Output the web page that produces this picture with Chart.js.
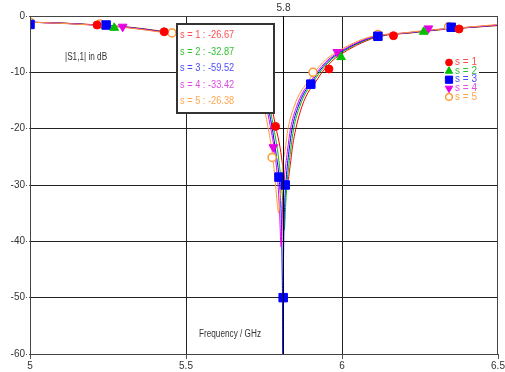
<!DOCTYPE html>
<html>
<head>
<meta charset="utf-8">
<script src="https://cdn.jsdelivr.net/npm/chart.js@4.4.0/dist/chart.umd.min.js"></script>
<style>
  html, body { margin: 0; padding: 0; background: #fff; }
</style>
</head>
<body>
<canvas id="s11Chart" width="505" height="372"></canvas>
<script>
// axis ticks
const xTicks = [5, 5.5, 6, 6.5];
const xTickLabels = ['5', '5.5', '6', '6.5'];
const yTicks = [0, -10, -20, -30, -40, -50, -60];
const yTickLabels = ['0', '-10', '-20', '-30', '-40', '-50', '-60'];

// series names + marker readout at 5.81 GHz
const seriesNames = ['s = 1', 's = 2', 's = 3', 's = 4', 's = 5'];
const markerFreq = 5.81;
const markerLabel = '5.8';
const markerValues = [-26.67, -32.87, -59.52, -33.42, -26.38];

// curves (GHz / dB)
const s1Freq = [5.0, 5.122, 5.222, 5.322, 5.422, 5.522, 5.622, 5.672, 5.722, 5.752, 5.772, 5.787, 5.802, 5.81, 5.816, 5.822, 5.828, 5.834, 5.842, 5.852, 5.872, 5.892, 5.912, 5.932, 5.972, 6.002, 6.062, 6.122, 6.222, 6.322, 6.422, 6.5];
const s1Db = [-1.1, -1.3, -1.6, -2.0, -2.7, -3.6, -5.3, -6.8, -9.5, -12.5, -15.5, -19.5, -23.5, -26.67, -29, -30.5, -29, -26.5, -23, -20, -16, -13.5, -12, -10.3, -7.8, -6.6, -4.8, -3.6, -3.0, -2.4, -2.0, -1.7];

const s2Freq = [5.0, 5.115, 5.215, 5.315, 5.415, 5.515, 5.615, 5.665, 5.715, 5.745, 5.765, 5.78, 5.795, 5.805, 5.81, 5.815, 5.82, 5.825, 5.835, 5.845, 5.865, 5.885, 5.905, 5.925, 5.965, 5.995, 6.055, 6.115, 6.215, 6.315, 6.415, 6.5];
const s2Db = [-1.1, -1.3, -1.6, -2.0, -2.7, -3.6, -5.3, -6.8, -9.5, -12.5, -15.5, -19.5, -24.5, -29.5, -32.87, -38, -33, -29, -24, -20, -16, -13.5, -12, -10.3, -7.8, -6.6, -4.8, -3.6, -3.0, -2.4, -2.0, -1.65];

const s3Freq = [5.0, 5.11, 5.21, 5.31, 5.41, 5.51, 5.61, 5.66, 5.71, 5.74, 5.76, 5.775, 5.79, 5.798, 5.806, 5.808, 5.8095, 5.81, 5.8105, 5.8115, 5.813, 5.816, 5.821, 5.83, 5.84, 5.86, 5.88, 5.9, 5.92, 5.96, 5.99, 6.05, 6.11, 6.21, 6.31, 6.41, 6.5];
const s3Db = [-1.1, -1.3, -1.6, -2.0, -2.7, -3.6, -5.3, -6.8, -9.5, -12.5, -15.5, -19.5, -25, -28.6, -37, -44, -52, -59.52, -60, -50, -41, -34, -29, -24, -20, -16, -13.5, -12, -10.3, -7.8, -6.6, -4.8, -3.6, -3.0, -2.4, -2.0, -1.6];

const s4Freq = [5.0, 5.105, 5.205, 5.305, 5.405, 5.505, 5.605, 5.655, 5.705, 5.735, 5.755, 5.77, 5.785, 5.795, 5.8, 5.805, 5.81, 5.815, 5.825, 5.835, 5.855, 5.875, 5.895, 5.915, 5.955, 5.985, 6.045, 6.105, 6.205, 6.305, 6.405, 6.5];
const s4Db = [-1.1, -1.3, -1.6, -2.0, -2.7, -3.6, -5.3, -6.8, -9.5, -12.5, -15.5, -19.5, -24.5, -30, -35, -41, -33.42, -29, -24, -20, -16, -13.5, -12, -10.3, -7.8, -6.6, -4.8, -3.6, -3.0, -2.4, -2.0, -1.6];

const s5Freq = [5.0, 5.097, 5.197, 5.297, 5.397, 5.497, 5.597, 5.647, 5.697, 5.727, 5.747, 5.762, 5.777, 5.787, 5.792, 5.797, 5.802, 5.81, 5.817, 5.827, 5.847, 5.867, 5.887, 5.907, 5.947, 5.977, 6.037, 6.097, 6.197, 6.297, 6.397, 6.5];
const s5Db = [-1.1, -1.3, -1.6, -2.0, -2.7, -3.6, -5.3, -6.8, -9.5, -12.5, -15.5, -19.5, -24.5, -30, -33, -35, -32, -26.38, -24, -20, -16, -13.5, -12, -10.3, -7.8, -6.6, -4.8, -3.6, -3.0, -2.4, -2.0, -1.5];

// curve markers
const s1MarkFreq = [5.215, 5.43, 5.787, 5.958, 6.165, 6.375];
const s1MarkDb = [-1.6, -2.8, -19.6, -9.4, -3.5, -2.3];
const s2MarkFreq = [5.27, 5.997, 6.262];
const s2MarkDb = [-2.1, -7.3, -2.8];
const s3MarkFreq = [5.0, 5.244, 5.798, 5.8115, 5.818, 5.9, 6.115, 6.35];
const s3MarkDb = [-1.5, -1.6, -28.6, -50, -30, -12.1, -3.6, -2.0];
const s4MarkFreq = [5.297, 5.78, 5.985, 6.277];
const s4MarkDb = [-1.9, -23.3, -6.4, -2.2];
const s5MarkFreq = [5.0, 5.224, 5.455, 5.776, 5.907, 6.115, 6.342];
const s5MarkDb = [-1.1, -1.4, -3.0, -25.1, -10, -3.3, -1.9];

const lineColors = ['#ff0000', '#00c000', '#0000ff', '#e600e6', '#ff9933'];
const textColors = ['#ff4d4d', '#33c033', '#4d4dff', '#e04de0', '#ffa64d'];
const FONT = '"Liberation Sans", Arial, sans-serif';

const curves = [[s1Freq, s1Db], [s2Freq, s2Db], [s3Freq, s3Db], [s4Freq, s4Db], [s5Freq, s5Db]];
const marks = [[s1MarkFreq, s1MarkDb], [s2MarkFreq, s2MarkDb], [s3MarkFreq, s3MarkDb], [s4MarkFreq, s4MarkDb], [s5MarkFreq, s5MarkDb]];
const markStyle = [
  { pointStyle: 'circle', radius: 4, rotation: 0, fill: lineColors[0] },
  { pointStyle: 'triangle', radius: 5, rotation: 0, fill: lineColors[1] },
  { pointStyle: 'rect', radius: 6, rotation: 0, fill: lineColors[2] },
  { pointStyle: 'triangle', radius: 5, rotation: 180, fill: lineColors[3] },
  { pointStyle: 'circle', radius: 4, rotation: 0, fill: '#ffffff' }
];

const toPts = (xs, ys) => xs.map((v, i) => ({ x: v, y: ys[i] }));

const datasets = [];
curves.forEach(([xs, ys], i) => {
  datasets.push({
    label: seriesNames[i],
    data: toPts(xs, ys),
    borderColor: lineColors[i],
    borderWidth: 1,
    pointRadius: 0,
    cubicInterpolationMode: 'monotone',
    showLine: true,
    order: 10 - i
  });
});
marks.forEach(([xs, ys], i) => {
  const st = markStyle[i];
  datasets.push({
    label: seriesNames[i] + ' markers',
    data: toPts(xs, ys),
    showLine: false,
    pointStyle: st.pointStyle,
    pointRadius: st.radius,
    pointRotation: st.rotation,
    pointBackgroundColor: st.fill,
    pointBorderColor: lineColors[i],
    pointBorderWidth: i === 4 ? 1.5 : 1,
    order: 0
  });
});

const edge = (v) => v === xTicks[0] || v === xTicks[xTicks.length - 1] || v === yTicks[0] || v === yTicks[yTicks.length - 1];

// narrow text, like the original's condensed UI font
function narrowText(ctx, text, x, y, sx) {
  ctx.save();
  ctx.translate(x, y);
  ctx.scale(sx, 1);
  ctx.fillText(text, 0, 0);
  ctx.restore();
}

const overlay = {
  id: 'overlay',
  afterDatasetsDraw(chart) {
    const { ctx, chartArea: a, scales: { x } } = chart;
    ctx.save();

    // frame
    ctx.strokeStyle = '#444';
    ctx.lineWidth = 1;
    ctx.strokeRect(a.left + 0.5, a.top + 0.5, a.right - a.left - 1, a.bottom - a.top);

    // marker line
    const mx = Math.round(x.getPixelForValue(markerFreq)) + 0.5;
    ctx.strokeStyle = '#000';
    ctx.beginPath();
    ctx.moveTo(mx, a.top);
    ctx.lineTo(mx, a.bottom);
    ctx.stroke();
    ctx.fillStyle = '#333';
    ctx.font = '10px ' + FONT;
    ctx.textAlign = 'center';
    ctx.textBaseline = 'middle';
    ctx.fillText(markerLabel, mx, a.top - 8);

    // axis titles inside plot
    ctx.textAlign = 'left';
    narrowText(ctx, '|S1,1| in dB', 65, 57, 0.82);
    ctx.textAlign = 'center';
    narrowText(ctx, 'Frequency / GHz', 230, 334, 0.82);

    // readout box
    ctx.fillStyle = '#fff';
    ctx.fillRect(177, 24, 97, 89);
    ctx.strokeStyle = '#333';
    ctx.lineWidth = 2;
    ctx.strokeRect(177, 24, 97, 89);
    ctx.font = '11px ' + FONT;
    ctx.textAlign = 'left';
    seriesNames.forEach((n, i) => {
      ctx.fillStyle = textColors[i];
      narrowText(ctx, n + ' : ' + markerValues[i].toFixed(2), 180, 35 + i * 16.5, 0.84);
    });

    // legend
    ctx.fillStyle = '#fff';
    ctx.fillRect(444, 57, 35, 45);
    ctx.font = '10px ' + FONT;
    seriesNames.forEach((n, i) => {
      const st = markStyle[i];
      const ly = 62.5 + i * 8.6;
      ctx.fillStyle = st.fill;
      ctx.strokeStyle = lineColors[i];
      ctx.lineWidth = i === 4 ? 1.5 : 1;
      Chart.helpers.drawPoint(ctx, { pointStyle: st.pointStyle, radius: st.radius * 0.85, rotation: st.rotation, borderWidth: 1 }, 449, ly);
      ctx.fillStyle = textColors[i];
      ctx.fillText(n, 455, ly);
    });

    ctx.restore();
  }
};

new Chart(document.getElementById('s11Chart'), {
  type: 'scatter',
  data: { datasets },
  plugins: [overlay],
  options: {
    responsive: false,
    animation: false,
    layout: { padding: { top: 16, right: 6, left: 0, bottom: 0 } },
    plugins: { legend: { display: false }, tooltip: { enabled: false } },
    scales: {
      x: {
        type: 'linear',
        min: 5,
        max: 6.5,
        afterBuildTicks: (s) => { s.ticks = xTicks.map(v => ({ value: v })); },
        afterFit: (s) => { s.height = 18; s.paddingLeft = 0; s.paddingRight = 0; },
        ticks: {
          callback: (v, i) => xTickLabels[i],
          color: '#333',
          font: { family: FONT, size: 10 },
          padding: 1,
          maxRotation: 0
        },
        grid: {
          color: (c) => edge(c.tick.value) ? 'rgba(0,0,0,0)' : '#222',
          borderDash: [1, 2],
          tickColor: '#555',
          tickLength: 5,
          tickBorderDash: []
        },
        border: { display: false }
      },
      y: {
        min: -60,
        max: 0,
        afterBuildTicks: (s) => { s.ticks = yTicks.map(v => ({ value: v })); },
        afterFit: (s) => { s.width = 30; },
        ticks: {
          callback: (v, i) => yTickLabels[i],
          color: '#333',
          font: { family: FONT, size: 10 },
          padding: 1
        },
        grid: {
          color: (c) => edge(c.tick.value) ? 'rgba(0,0,0,0)' : '#222',
          borderDash: [1, 2],
          tickColor: '#555',
          tickLength: 4,
          tickBorderDash: [1, 2]
        },
        border: { display: false }
      }
    }
  }
});
</script>
</body>
</html>
